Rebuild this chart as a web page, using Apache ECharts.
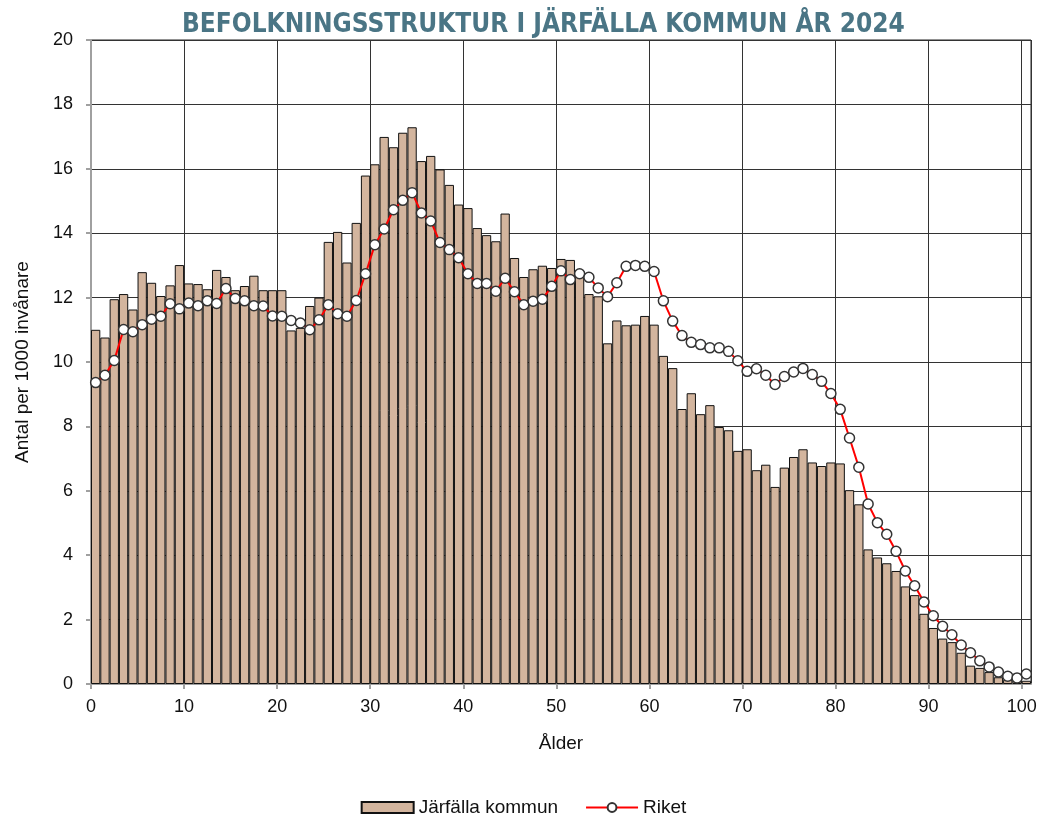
<!DOCTYPE html>
<html>
<head>
<meta charset="utf-8">
<script src="https://cdn.jsdelivr.net/npm/echarts@6/dist/echarts.min.js"></script>
<style>
  html, body { margin: 0; padding: 0; background: #fff; }
  #chart { width: 1047px; height: 822px; }
</style>
</head>
<body>
<div id="chart"></div>
<script>
// ålder 0..100
const ages = Array.from({ length: 101 }, (_, i) => i);

// Järfälla kommun, antal per 1000 invånare
const jarfalla = [
  11.0, 10.76, 11.95, 12.11, 11.63, 12.79, 12.46, 12.05, 12.38, 13.01,
  12.44, 12.42, 12.26, 12.86, 12.64, 12.23, 12.36, 12.68, 12.23, 12.23,
  12.23, 10.98, 11.06, 11.74, 12.0, 13.73, 14.04, 13.09, 14.32, 15.79,
  16.14, 16.99, 16.67, 17.12, 17.29, 16.24, 16.40, 15.98, 15.50, 14.89,
  14.78, 14.16, 13.94, 13.75, 14.61, 13.23, 12.64, 12.88, 12.99, 12.92,
  13.20, 13.17, 12.75, 12.11, 12.04, 10.58, 11.29, 11.14, 11.16, 11.43,
  11.16, 10.19, 9.81, 8.54, 9.03, 8.38, 8.66, 7.98, 7.88, 7.24,
  7.29, 6.64, 6.81, 6.12, 6.72, 7.05, 7.29, 6.88, 6.77, 6.88,
  6.85, 6.02, 5.58, 4.18, 3.93, 3.75, 3.51, 3.03, 2.76, 2.18,
  1.74, 1.41, 1.30, 0.97, 0.57, 0.50, 0.37, 0.21, 0.13, 0.11,
  0.10
];

// Riket
const riket = [
  9.36, 9.59, 10.05, 11.01, 10.94, 11.16, 11.33, 11.42, 11.81, 11.65,
  11.83, 11.75, 11.90, 11.82, 12.28, 11.97, 11.90, 11.75, 11.74, 11.43,
  11.42, 11.29, 11.21, 11.0, 11.31, 11.78, 11.50, 11.42, 11.91, 12.74,
  13.64, 14.13, 14.73, 15.02, 15.26, 14.63, 14.38, 13.71, 13.49, 13.24,
  12.74, 12.44, 12.44, 12.20, 12.60, 12.18, 11.78, 11.89, 11.95, 12.35,
  12.83, 12.56, 12.74, 12.63, 12.30, 12.03, 12.46, 12.97, 13.0, 12.97,
  12.81, 11.90, 11.27, 10.82, 10.61, 10.54, 10.44, 10.44, 10.33, 10.04,
  9.71, 9.79, 9.59, 9.30, 9.55, 9.69, 9.80, 9.61, 9.40, 9.02,
  8.53, 7.64, 6.73, 5.59, 5.01, 4.65, 4.12, 3.51, 3.05, 2.55,
  2.12, 1.79, 1.53, 1.21, 0.97, 0.72, 0.53, 0.37, 0.24, 0.19,
  0.31
];

const TAN = "#d3b59e";
const FONT = "'Liberation Sans', Arial, sans-serif";

const chart = echarts.init(document.getElementById("chart"), null, { renderer: "canvas" });

chart.setOption({
  backgroundColor: "#fff",
  animation: false,
  title: {
    text: "BEFOLKNINGSSTRUKTUR I JÄRFÄLLA KOMMUN ÅR 2024",
    left: 177,
    top: 7,
    textStyle: {
      color: "#4a7585",
      fontFamily: "'Liberation Sans Narrow', 'DejaVu Sans Condensed', sans-serif",
      fontWeight: "bold",
      fontSize: 26,
    },
  },
  grid: {
    left: 91,
    right: 16,
    top: 40,
    bottom: 138,
    show: true,
    borderColor: "#222",
    borderWidth: 1,
  },
  legend: {
    bottom: 0,
    left: "center",
    itemWidth: 52,
    itemHeight: 11,
    itemGap: 27,
    textStyle: { color: "#111", fontFamily: FONT, fontSize: 19 },
    data: [
      { name: "Järfälla kommun", icon: "rect" },
      { name: "Riket" },
    ],
  },
  xAxis: {
    type: "value",
    min: 0,
    max: 101,
    interval: 10,
    name: "Ålder",
    nameLocation: "middle",
    nameGap: 50,
    nameTextStyle: { color: "#111", fontFamily: FONT, fontSize: 19 },
    axisLine: { show: true, lineStyle: { color: "#a0a0a0", width: 2 } },
    axisTick: { show: true, length: 5, lineStyle: { color: "#a0a0a0", width: 2 } },
    axisLabel: {
      color: "#111",
      fontFamily: FONT,
      fontSize: 18,
      margin: 14,
      showMaxLabel: false,
      formatter: (v) => (v % 10 === 0 ? String(v) : ""),
    },
    splitLine: { show: true, lineStyle: { color: "#333", width: 1 } },
  },
  yAxis: {
    type: "value",
    min: 0,
    max: 20,
    interval: 2,
    name: "Antal per 1000 invånare",
    nameLocation: "middle",
    nameGap: 59,
    nameTextStyle: { color: "#111", fontFamily: FONT, fontSize: 19 },
    axisLine: { show: true, lineStyle: { color: "#a0a0a0", width: 2 } },
    axisTick: { show: true, length: 5, lineStyle: { color: "#a0a0a0", width: 2 } },
    axisLabel: { color: "#111", fontFamily: FONT, fontSize: 18, margin: 18 },
    splitLine: { show: true, lineStyle: { color: "#333", width: 1 } },
  },
  series: [
    {
      name: "Järfälla kommun",
      type: "bar",
      data: ages.map((a, i) => [a + 0.5, jarfalla[i]]),
      barWidth: 9.3,
      itemStyle: { color: TAN, borderColor: "#111", borderWidth: 1 },
      z: 2,
    },
    {
      name: "Riket",
      type: "line",
      data: ages.map((a, i) => [a + 0.5, riket[i]]),
      symbol: "circle",
      symbolSize: 10,
      showAllSymbol: true,
      lineStyle: { color: "#ff0000", width: 2 },
      itemStyle: { color: "#fff", borderColor: "#333", borderWidth: 1.5 },
      z: 3,
    },
  ],
});
</script>
</body>
</html>
